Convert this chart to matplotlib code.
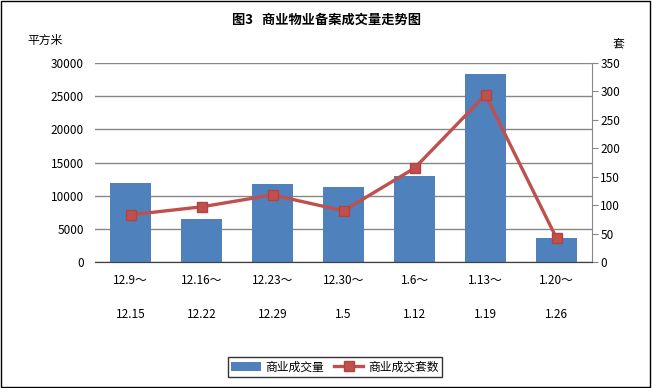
import matplotlib.pyplot as plt
import numpy as np
from matplotlib.patches import Rectangle

plt.rcParams['font.family'] = ['Noto Sans CJK SC', 'DejaVu Sans']

# Data
weeks_start = ['12.9～', '12.16～', '12.23～', '12.30～', '1.6～', '1.13～', '1.20～']
weeks_end = ['12.15', '12.22', '12.29', '1.5', '1.12', '1.19', '1.26']
area_sqm = [11900, 6500, 11800, 11300, 13000, 28300, 3600]
units = [83, 97, 118, 90, 165, 294, 42]

bar_color = '#4f81bd'
line_color = '#c0504d'

fig = plt.figure(figsize=(6.52, 3.88), dpi=100)
ax = fig.add_axes([95 / 652, 1 - 262 / 388, 497 / 652, 199 / 388])
ax2 = ax.twinx()

x = np.arange(len(area_sqm))
ax.bar(x, area_sqm, width=0.58, color=bar_color, zorder=2, label='商业成交量')
ax2.plot(x, units, color=line_color, lw=2.4, marker='s', ms=7,
         mfc=line_color, mec='#b04540', zorder=3, label='商业成交套数')

ax.set_xlim(-0.5, len(x) - 0.5)
ax.set_ylim(0, 30000)
ax2.set_ylim(0, 350)
ax.set_yticks(range(0, 30001, 5000))
ax2.set_yticks(range(0, 351, 50))
ax.yaxis.grid(True, color='#868686', lw=1, zorder=0)
ax.set_axisbelow(True)

labels = [s + '\n\n' + e for s, e in zip(weeks_start, weeks_end)]
ax.set_xticks(x)
ax.set_xticklabels(labels, fontsize=8.5, linespacing=1.35)
ax.tick_params(axis='x', length=0, pad=9)
ax.tick_params(axis='y', length=0, labelsize=8.5, pad=8)
ax2.tick_params(axis='y', length=4, color='#868686', labelsize=8.5, pad=2)

for a in (ax, ax2):
    a.spines['top'].set_visible(False)
    a.spines['left'].set_visible(False)
ax.spines['right'].set_visible(False)
ax2.spines['right'].set_color('#868686')
ax2.spines['bottom'].set_color('#404040')
ax.spines['bottom'].set_color('#404040')

fig.text(0.5, 1 - 20 / 388, '图3   商业物业备案成交量走势图', ha='center', va='center',
         fontsize=9.5, fontweight='bold')
fig.text(45 / 652, 1 - 40 / 388, '平方米', ha='center', va='center', fontsize=8.5)
fig.text(618 / 652, 1 - 45 / 388, '套', ha='center', va='center', fontsize=8.5)

h1, l1 = ax.get_legend_handles_labels()
h2, l2 = ax2.get_legend_handles_labels()
leg = fig.legend(h1 + h2, l1 + l2, loc='center', bbox_to_anchor=(335 / 652, 1 - 367 / 388),
                 ncol=2, fontsize=8.5, frameon=True, fancybox=False, borderpad=0.3,
                 handlelength=2.5, columnspacing=0.8, handletextpad=0.4)
leg.get_frame().set_edgecolor('black')
leg.get_frame().set_linewidth(1)

# outer border
fig.patches.append(Rectangle((0.002, 0.003), 0.995, 0.994, transform=fig.transFigure,
                             fill=False, edgecolor='black', lw=1))

fig.savefig('out.png', dpi=100)
